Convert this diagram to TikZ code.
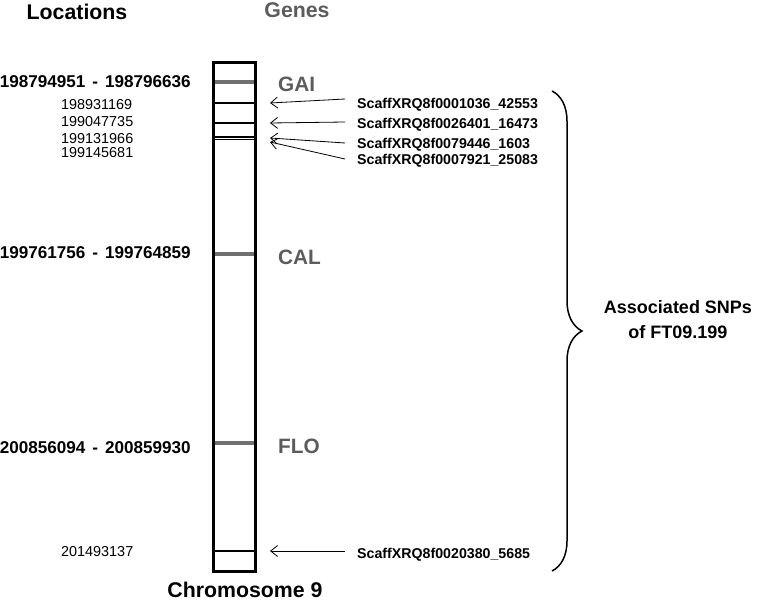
\documentclass[tikz,border=0pt]{standalone}
\usepackage{xcolor}
\usepackage{fontspec}
\setmainfont{Liberation Sans}
\usepackage{tikz}
\usetikzlibrary{arrows.meta,positioning,decorations.pathreplacing}
\definecolor{genegray}{HTML}{5C5C5C}
\definecolor{bargray}{HTML}{707070}

\begin{document}
\begin{tikzpicture}[x=1pt,y=-1pt,>={Straight Barb[length=7pt,width=11pt]},
		head/.style={inner sep=0pt,font=\fontsize{21.3}{25}\selectfont\bfseries},
		loc/.style={anchor=east,inner sep=0pt,text depth=0pt,font=\fontsize{17.1}{20}\selectfont\bfseries},
		snploc/.style={anchor=west,inner sep=0pt,text depth=0pt,font=\fontsize{14.4}{16}\selectfont},
		gene/.style={anchor=west,inner sep=0pt,text=genegray,font=\fontsize{20.8}{24}\selectfont\bfseries},
		snp/.style={anchor=west,inner sep=0pt,text depth=0pt,font=\fontsize{14.2}{16}\selectfont\bfseries},
		band/.style={line width=4pt,bargray},
		snpline/.style={line width=1.6pt}]
		\useasboundingbox (0,0) rectangle (780,602);
		% headers
		\node[head] (locations) at (77,12) {Locations};
		\node[head,text=genegray] (genes) at (297,10) {Genes};
		% chromosome
		\draw[band] (214.5,82) -- (253.5,82);
		\draw[band] (214.5,254) -- (253.5,254);
		\draw[band] (214.5,443) -- (253.5,443);
		\foreach \y in {103,123,137,139.5,551}
			\draw[snpline] (213,\y) -- (255,\y);
		\node[draw,line width=3pt,minimum width=42pt,minimum height=508pt,inner sep=0pt] (chrom) at (234,317) {};
		\node[head] (chromlabel) at (245,590) {Chromosome 9};
		% gene locations
		\node[loc] (gai loc) at (191,82) {198794951\hspace{7pt}-\hspace{7pt}198796636};
		\node[loc] (cal loc) at (191,253) {199761756\hspace{7pt}-\hspace{7pt}199764859};
		\node[loc] (flo loc) at (191,448) {200856094\hspace{7pt}-\hspace{7pt}200859930};
		\node[gene] (gai) at (278,84) {GAI};
		\node[gene] (cal) at (278,257) {CAL};
		\node[gene] (flo) at (278,446) {FLO};
		% snp locations
		\node[snploc] (p1) at (61,104) {198931169};
		\node[snploc] (p2) at (61,121) {199047735};
		\node[snploc] (p3) at (61,138) {199131966};
		\node[snploc] (p4) at (61,152) {199145681};
		\node[snploc] (p5) at (61,551) {201493137};
		% snps
		\node[snp] (s1) at (357,103) {ScaffXRQ8f0001036\_42553};
		\node[snp] (s2) at (357,123) {ScaffXRQ8f0026401\_16473};
		\node[snp] (s3) at (357,143) {ScaffXRQ8f0079446\_1603};
		\node[snp] (s4) at (357,159) {ScaffXRQ8f0007921\_25083};
		\node[snp] (s5) at (357,553) {ScaffXRQ8f0020380\_5685};
		\coordinate (t1) at (270,103);
		\coordinate (t2) at (270,123);
		\coordinate (t3) at (270,138);
		\coordinate (t4) at (270,142);
		\coordinate (t5) at (270,551);
		\draw[->,line width=0.8pt] ([shift={(-12,-4)}]s1.west) -- (t1);
		\draw[->,line width=0.8pt] ([shift={(-12,-1)}]s2.west) -- (t2);
		\draw[->,line width=0.8pt] ([shift={(-12,0)}]s3.west) -- (t3);
		\draw[->,line width=0.8pt] ([shift={(-12,0)}]s4.west) -- (t4);
		\draw[->,line width=0.8pt] ([shift={(-12,-2)}]s5.west) -- (t5);
		% brace
		\coordinate (brace top) at (552,91);
		\coordinate (brace bottom) at (552,571);
		\draw[line width=1.5pt,decorate,decoration={brace,amplitude=30pt}] (brace top) -- (brace bottom);
		\node[inner sep=0pt,align=center,font=\fontsize{18}{25}\selectfont\bfseries] (assoc) at (678,320) {Associated SNPs\\of FT09.199};
	\end{tikzpicture}
\end{document}
